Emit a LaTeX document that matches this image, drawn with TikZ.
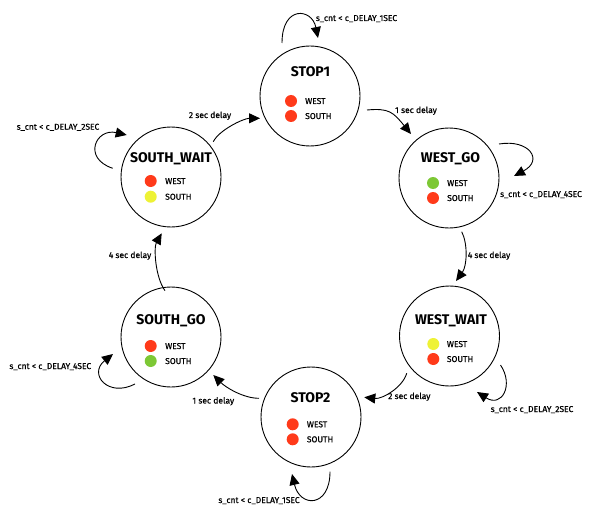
\documentclass[tikz,border=0pt]{standalone}
\usepackage{fontspec}
\setmainfont{Fira Sans}
\newfontfamily\medfont{Fira Sans}[FakeBold=0.6]
\usetikzlibrary{arrows.meta,calc}
\definecolor{lred}{HTML}{FF3A1A}
\definecolor{lgreen}{HTML}{7DC835}
\definecolor{lyellow}{HTML}{EEF235}
\tikzset{
  statebox/.style={circle, draw, line width=0.9pt, minimum size=100pt, inner sep=0pt},
  ttl/.style={font=\bfseries\fontsize{14}{16}\selectfont, anchor=base, inner sep=0pt},
  lamp/.style={circle, inner sep=0pt, minimum size=12pt},
  lamptxt/.style={font=\medfont\fontsize{8.5}{10}\selectfont, anchor=base west, inner sep=0pt},
  lbl/.style={font=\medfont\fontsize{8.5}{10}\selectfont, anchor=base, inner sep=0pt},
  conn/.style={-{Triangle[length=11pt,width=10pt]}, line width=0.9pt}
}
\begin{document}
\begin{tikzpicture}[x=1pt,y=1pt]
\path[use as bounding box, fill=white] (0,0) rectangle (596,-513);

% states
\node[statebox] (s1) at (310,-96) {};
\node[statebox] (wg) at (449,-178) {};
\node[statebox] (ww) at (449.5,-336) {};
\node[statebox] (s2) at (311,-417) {};
\node[statebox] (sg) at (171,-337) {};
\node[statebox] (sw) at (171,-177) {};

% titles
\node[ttl] (s1t) at (310.5,-76.9) {STOP1};
\node[ttl] (wgt) at (450.5,-162.9) {WEST\_GO};
\node[ttl] (wwt) at (451,-324.4) {WEST\_WAIT};
\node[ttl] (s2t) at (310.5,-402.9) {STOP2};
\node[ttl] (sgt) at (171,-324.6) {SOUTH\_GO};
\node[ttl] (swt) at (171,-162.9) {SOUTH\_WAIT};

% lamps
\node[lamp, fill=lred] (s1a) at (291,-101) {};
\node[lamp, fill=lred] (s1b) at (291,-116) {};
\node[lamptxt] (s1at) at (305,-104) {WEST};
\node[lamptxt] (s1bt) at (305,-119) {SOUTH};

\node[lamp, fill=lgreen] (wga) at (433,-183) {};
\node[lamp, fill=lred] (wgb) at (433,-198) {};
\node[lamptxt] (wgat) at (447,-186) {WEST};
\node[lamptxt] (wgbt) at (447,-201) {SOUTH};

\node[lamp, fill=lyellow] (wwa) at (433.3,-344) {};
\node[lamp, fill=lred] (wwb) at (433.3,-359) {};
\node[lamptxt] (wwat) at (446.7,-347) {WEST};
\node[lamptxt] (wwbt) at (446.7,-362) {SOUTH};

\node[lamp, fill=lred] (s2a) at (292.7,-424.3) {};
\node[lamp, fill=lred] (s2b) at (292.7,-439.3) {};
\node[lamptxt] (s2at) at (306.7,-427.3) {WEST};
\node[lamptxt] (s2bt) at (306.7,-442.3) {SOUTH};

\node[lamp, fill=lred] (sga) at (150.7,-346) {};
\node[lamp, fill=lgreen] (sgb) at (150.7,-361) {};
\node[lamptxt] (sgat) at (165,-349) {WEST};
\node[lamptxt] (sgbt) at (165,-364) {SOUTH};

\node[lamp, fill=lred] (swa) at (150.7,-181) {};
\node[lamp, fill=lyellow] (swb) at (150.7,-196.7) {};
\node[lamptxt] (swat) at (165,-184) {WEST};
\node[lamptxt] (swbt) at (165,-199.7) {SOUTH};

% connectors
\draw[conn] ($(s1)+(-28,53)$) .. controls +(0,38) and +(-6,30) .. ($(s1)+(8,58)$);
\draw[conn] ($(s1)+(57,-14)$) .. controls +(22,2) and +(-18,22) .. ($(wg)+(-38,44)$);
\draw[conn] ($(wg)+(50,34)$) .. controls +(30,5) and +(30,16) .. ($(wg)+(65,2)$);
\draw[conn] ($(wg)+(12.7,-53.7)$) .. controls +(6.3,-12.3) and +(11,15) .. ($(ww)+(6.5,55)$);
\draw[conn] ($(ww)+(51,-29)$) .. controls +(13.5,-20) and +(25,-16) .. ($(ww)+(27.5,-56)$);
\draw[conn] ($(ww)+(-42.8,-37.3)$) .. controls +(-4,-14) and +(18,-2) .. ($(s2)+(53.3,19.7)$);
\draw[conn] ($(s2)+(19,-54.7)$) .. controls +(0,-36) and +(8,-34) .. ($(s2)+(-19,-57)$);
\draw[conn] ($(s2)+(-52,18.7)$) .. controls +(-16,0) and +(12,-12) .. ($(sg)+(42.3,-38)$);
\draw[conn] ($(sg)+(-36,-47)$) .. controls +(-27,-14) and +(-25,-20) .. ($(sg)+(-58,-17)$);
\draw[conn] ($(sg)+(-6,46.3)$) .. controls +(-10,14) and +(-8,-14) .. ($(sw)+(-9.3,-56.3)$);
\draw[conn] ($(sw)+(-58.3,8.7)$) .. controls +(-30.7,10.3) and +(-30.7,7) .. ($(sw)+(-44.3,42)$);
\draw[conn] ($(sw)+(42.3,35.3)$) .. controls +(6,12) and +(-16,0) .. ($(s1)+(-50,-22.3)$);

% labels
\node[lbl] (l1) at (356.5,-21) {s\_cnt < c\_DELAY\_1SEC};
\node[lbl] (l2) at (416,-113) {1 sec delay};
\node[lbl] (l3) at (541,-197) {s\_cnt < c\_DELAY\_4SEC};
\node[lbl] (l4) at (489,-258) {4 sec delay};
\node[lbl] (l5) at (532,-412) {s\_cnt < c\_DELAY\_2SEC};
\node[lbl] (l6) at (409.3,-399) {2 sec delay};
\node[lbl] (l7) at (259,-503) {s\_cnt < c\_DELAY\_1SEC};
\node[lbl] (l8) at (213.3,-403.5) {1 sec delay};
\node[lbl] (l9) at (50.3,-369) {s\_cnt < c\_DELAY\_4SEC};
\node[lbl] (l10) at (130,-258) {4 sec delay};
\node[lbl] (l11) at (58,-129.7) {s\_cnt < c\_DELAY\_2SEC};
\node[lbl] (l12) at (210,-118) {2 sec delay};
\end{tikzpicture}
\end{document}
